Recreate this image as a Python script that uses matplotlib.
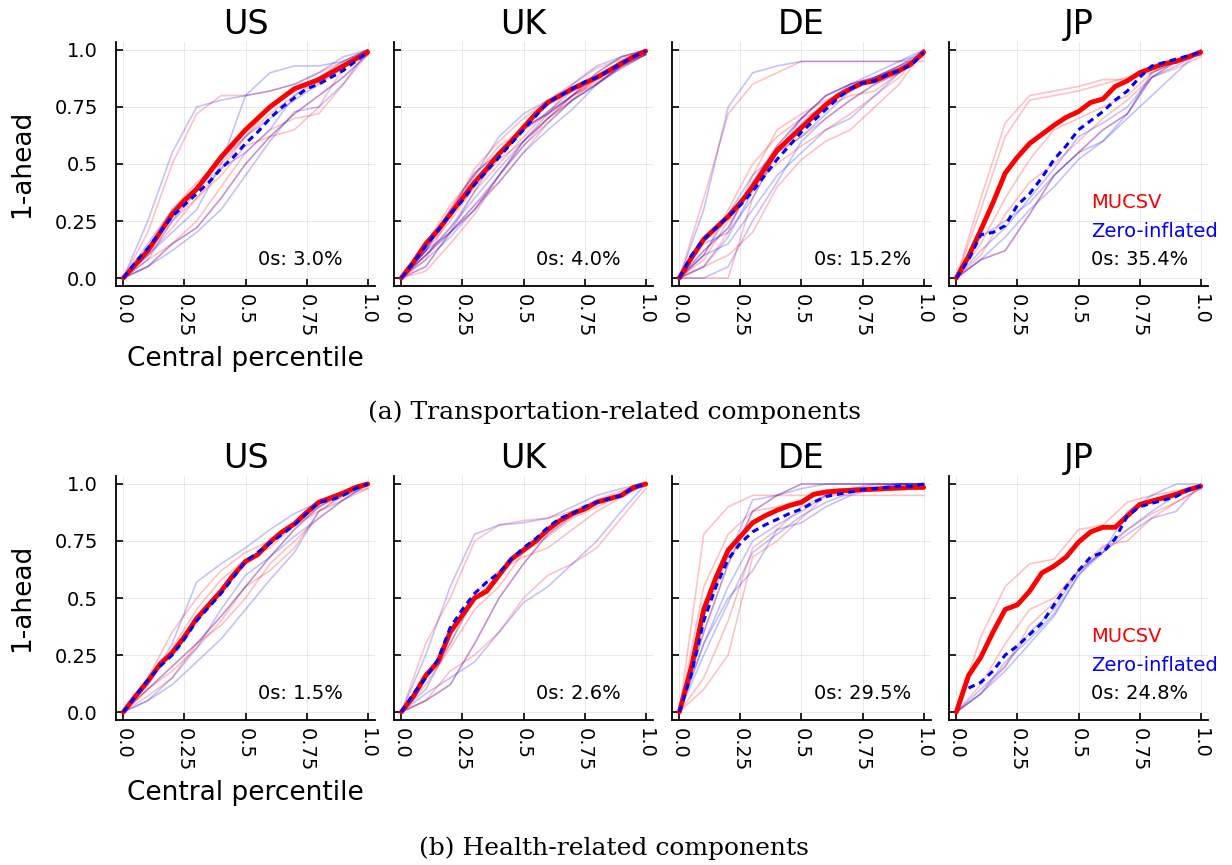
import matplotlib
matplotlib.use("Agg")
import matplotlib.pyplot as plt
import numpy as np

# percentile grids
pct = [0.0, 0.05, 0.1, 0.15, 0.2, 0.25, 0.3, 0.35, 0.4, 0.45, 0.5,
       0.55, 0.6, 0.65, 0.7, 0.75, 0.8, 0.85, 0.9, 0.95, 1.0]
pct_thin = [0.0, 0.1, 0.2, 0.3, 0.4, 0.5, 0.6, 0.7, 0.8, 0.9, 1.0]

countries = ["US", "UK", "DE", "JP"]
zeros_tr = ["3.0%", "4.0%", "15.2%", "35.4%"]
zeros_he = ["1.5%", "2.6%", "29.5%", "24.8%"]

# ---- (a) transportation ----
us_tr_mucsv = [0, .06, .12, .20, .28, .34, .39, .46, .53, .59, .65, .70, .75, .79, .83, .85, .87, .90, .93, .96, .99]
us_tr_zi = [0, .07, .13, .20, .27, .32, .37, .42, .48, .53, .59, .64, .70, .75, .79, .83, .85, .88, .91, .95, .99]
us_tr_red = [[0, .20, .50, .72, .80, .80, .82, .85, .90, .95, 1],
             [0, .08, .15, .25, .40, .55, .65, .70, .72, .85, .98],
             [0, .10, .25, .35, .45, .58, .62, .65, .75, .92, 1],
             [0, .12, .30, .42, .50, .62, .75, .82, .88, .94, .99],
             [0, .10, .22, .35, .48, .62, .72, .80, .86, .93, .99]]
us_tr_blue = [[0, .25, .55, .75, .78, .80, .82, .85, .90, .97, 1],
              [0, .10, .20, .30, .50, .80, .90, .93, .93, .95, 1],
              [0, .05, .12, .20, .30, .45, .60, .73, .75, .85, 1],
              [0, .15, .30, .40, .48, .55, .65, .80, .88, .95, 1],
              [0, .08, .25, .38, .52, .62, .70, .78, .85, .92, 1]]
us_tr_mix = [[0, .05, .15, .22, .35, .50, .62, .72, .80, .88, .98]]

uk_tr_mucsv = [0, .07, .15, .21, .28, .35, .42, .48, .545, .60, .66, .72, .77, .80, .83, .855, .88, .91, .94, .97, .995]
uk_tr_zi = [0, .07, .14, .21, .28, .34, .41, .47, .53, .59, .65, .71, .77, .80, .83, .86, .88, .91, .94, .97, .995]
uk_tr_red = [[0, .15, .32, .45, .58, .65, .72, .85, .92, .96, 1],
             [0, .10, .22, .38, .50, .62, .73, .80, .86, .92, .98],
             [0, .05, .20, .32, .42, .55, .68, .78, .88, .94, .98],
             [0, .12, .25, .40, .52, .60, .70, .80, .85, .93, 1],
             [0, .08, .28, .48, .60, .70, .78, .82, .88, .95, 1],
             [0, .03, .15, .28, .45, .58, .70, .80, .87, .93, .98]]
uk_tr_blue = [[0, .12, .28, .45, .62, .72, .78, .85, .93, .97, 1],
              [0, .08, .18, .30, .42, .55, .65, .74, .85, .93, 1],
              [0, .10, .22, .35, .48, .60, .72, .80, .88, .95, 1],
              [0, .05, .20, .38, .55, .65, .73, .82, .88, .95, 1],
              [0, .12, .20, .32, .45, .58, .68, .78, .85, .92, .98]]
uk_tr_mix = [[0, .12, .30, .46, .55, .66, .72, .80, .90, .97, 1],
             [0, .10, .20, .30, .45, .60, .70, .78, .85, .93, .98]]

de_tr_mucsv = [0, .09, .17, .22, .27, .33, .40, .48, .56, .61, .66, .71, .76, .80, .83, .855, .865, .89, .91, .94, .99]
de_tr_zi = [0, .10, .17, .22, .27, .32, .38, .45, .52, .58, .64, .69, .74, .79, .83, .855, .865, .89, .91, .935, .99]
de_tr_red = [[0, 0, 0, .35, .55, .62, .70, .78, .85, .90, .98],
             [0, .35, .72, .85, .90, .95, .95, .95, .95, .95, .95],
             [0, .05, .10, .20, .40, .52, .60, .65, .75, .85, 1],
             [0, .10, .30, .50, .62, .70, .75, .80, .82, .90, .98],
             [0, .05, .20, .45, .65, .72, .78, .82, .88, .92, .97],
             [0, .08, .25, .40, .50, .58, .65, .72, .80, .88, 1]]
de_tr_blue = [[0, .30, .75, .90, .93, .95, .95, .95, .95, .95, 1],
              [0, .10, .15, .30, .45, .55, .65, .70, .80, .90, 1],
              [0, 0, .05, .25, .42, .60, .70, .78, .85, .90, 1],
              [0, .15, .20, .35, .55, .68, .77, .85, .88, .92, .98],
              [0, .10, .28, .45, .55, .62, .72, .82, .88, .93, 1],
              [0, .05, .18, .38, .55, .70, .80, .85, .90, .95, .98]]
de_tr_mix = [[0, .12, .22, .42, .58, .70, .80, .85, .88, .93, .98]]

jp_tr_mucsv = [0, .095, .21, .33, .46, .53, .59, .63, .67, .705, .73, .77, .785, .84, .865, .90, .92, .94, .95, .97, .99]
jp_tr_zi = [0, .08, .19, .20, .23, .32, .37, .44, .52, .58, .65, .69, .73, .78, .82, .88, .93, .945, .96, .975, .99]
jp_tr_red = [[0, .35, .68, .80, .82, .84, .87, .87, .90, .95, 1],
             [0, .30, .62, .78, .80, .82, .85, .88, .92, .96, .98],
             [0, .15, .35, .52, .65, .70, .75, .80, .90, .95, .98],
             [0, .10, .28, .42, .50, .60, .70, .78, .88, .92, .97]]
jp_tr_blue = [[0, .12, .22, .35, .48, .62, .68, .75, .88, .93, .99],
              [0, .18, .25, .33, .45, .55, .60, .72, .90, .95, 1],
              [0, .08, .18, .30, .40, .52, .60, .70, .80, .90, 1]]
jp_tr_mix = [[0, .08, .12, .28, .45, .55, .65, .72, .88, .95, .98]]

# ---- (b) health ----
us_he_mucsv = [0, .07, .135, .21, .26, .33, .41, .47, .53, .60, .66, .69, .745, .79, .825, .875, .92, .94, .96, .985, 1.0]
us_he_zi = [0, .07, .14, .20, .25, .32, .40, .46, .52, .59, .66, .70, .74, .78, .82, .87, .92, .93, .95, .98, 1.0]
us_he_red = [[0, .15, .35, .50, .62, .70, .75, .82, .88, .95, .99],
             [0, .12, .28, .45, .58, .67, .72, .82, .90, .95, .98],
             [0, .07, .15, .30, .38, .50, .65, .75, .85, .93, .98],
             [0, .10, .18, .28, .40, .55, .62, .72, .88, .95, 1]]
us_he_blue = [[0, .12, .30, .57, .65, .72, .80, .87, .92, .97, 1],
              [0, .05, .12, .22, .32, .45, .58, .70, .88, .93, 1],
              [0, .05, .15, .28, .45, .60, .68, .77, .85, .93, 1]]
us_he_mix = [[0, .10, .20, .30, .42, .55, .68, .80, .90, .96, 1]]

uk_he_mucsv = [0, .07, .16, .22, .35, .425, .50, .53, .60, .67, .71, .75, .80, .84, .87, .89, .92, .935, .95, .985, 1.0]
uk_he_zi = [0, .08, .15, .23, .37, .45, .52, .57, .61, .67, .72, .76, .81, .85, .87, .90, .92, .935, .95, .985, 1.0]
uk_he_red = [[0, .30, .50, .75, .82, .84, .85, .88, .93, .97, 1],
             [0, .15, .30, .52, .62, .68, .72, .80, .88, .94, 1],
             [0, .05, .18, .25, .35, .50, .60, .65, .72, .85, .98],
             [0, .12, .28, .45, .55, .70, .77, .85, .90, .95, 1]]
uk_he_blue = [[0, .25, .55, .78, .82, .83, .85, .90, .95, .98, 1],
              [0, .08, .15, .22, .35, .48, .55, .65, .75, .88, 1],
              [0, .10, .30, .50, .60, .72, .80, .88, .92, .95, 1]]
uk_he_mix = [[0, .05, .12, .30, .50, .65, .78, .86, .92, .95, 1]]

de_he_mucsv = [0, .20, .45, .59, .71, .77, .83, .86, .885, .905, .92, .955, .965, .97, .972, .975, .977, .98, .982, .985, .985]
de_he_zi = [0, .17, .40, .55, .67, .74, .79, .82, .845, .87, .89, .92, .945, .955, .965, .975, .98, .985, .99, .99, 1.0]
de_he_red = [[0, .78, .90, .95, .95, .95, .95, .95, .95, .95, .95],
             [0, .55, .78, .88, .90, .93, .96, .97, .98, .98, .98],
             [0, .15, .40, .72, .80, .90, .95, .97, .98, .98, .98],
             [0, .10, .25, .68, .75, .85, .95, .98, .99, 1, 1]]
de_he_blue = [[0, .42, .68, .93, .95, .98, 1, 1, 1, 1, 1],
              [0, .30, .55, .75, .82, .88, .95, .98, 1, 1, 1],
              [0, .30, .50, .62, .80, .83, .90, .95, .98, 1, 1],
              [0, .25, .48, .70, .78, .86, .92, .96, .98, 1, 1]]
de_he_mix = [[0, .35, .65, .88, .95, 1, 1, 1, 1, 1, 1]]

jp_he_mucsv = [0, .16, .24, .35, .45, .47, .53, .61, .64, .68, .745, .79, .81, .81, .86, .91, .925, .94, .955, .975, .99]
jp_he_zi = [np.nan, .105, .13, .18, .25, .29, .34, .39, .47, .55, .62, .68, .70, .76, .86, .90, .915, .93, .945, .975, .99]
jp_he_red = [[0, .33, .55, .65, .67, .80, .82, .92, .95, .97, .99],
             [0, .12, .30, .45, .50, .62, .73, .75, .85, .92, .98],
             [0, .08, .20, .38, .48, .62, .70, .80, .87, .92, .98]]
jp_he_blue = [[0, .10, .20, .35, .45, .62, .70, .88, .95, 1, 1],
              [0, .08, .18, .30, .42, .60, .72, .80, .88, .95, .99],
              [0, .08, .22, .32, .43, .60, .70, .78, .85, .88, 1]]
jp_he_mix = []

rows = [
    [(us_tr_mucsv, us_tr_zi, us_tr_red, us_tr_blue, us_tr_mix),
     (uk_tr_mucsv, uk_tr_zi, uk_tr_red, uk_tr_blue, uk_tr_mix),
     (de_tr_mucsv, de_tr_zi, de_tr_red, de_tr_blue, de_tr_mix),
     (jp_tr_mucsv, jp_tr_zi, jp_tr_red, jp_tr_blue, jp_tr_mix)],
    [(us_he_mucsv, us_he_zi, us_he_red, us_he_blue, us_he_mix),
     (uk_he_mucsv, uk_he_zi, uk_he_red, uk_he_blue, uk_he_mix),
     (de_he_mucsv, de_he_zi, de_he_red, de_he_blue, de_he_mix),
     (jp_he_mucsv, jp_he_zi, jp_he_red, jp_he_blue, jp_he_mix)],
]
zeros = [zeros_tr, zeros_he]
captions = ["(a) Transportation-related components", "(b) Health-related components"]

ticks = [0.0, 0.25, 0.5, 0.75, 1.0]
tick_labels = ["0.0", "0.25", "0.5", "0.75", "1.0"]

W, H = 1232, 865
fig = plt.figure(figsize=(W / 100, H / 100), dpi=100)

col_left = [116, 394, 672, 949]
row_top = [42, 476]
ax_w, ax_h = 259, 244
caption_y = [412, 848]

for r in range(2):
    for c in range(4):
        ax = fig.add_axes([col_left[c] / W, (H - row_top[r] - ax_h) / H, ax_w / W, ax_h / H])
        mucsv, zi, reds, blues, mixes = rows[r][c]
        for s in reds + mixes:
            ax.plot(pct_thin, s, color="#ff0000", alpha=0.24, lw=1.2)
        for s in blues + mixes:
            ax.plot(pct_thin, s, color="#0000ff", alpha=0.24, lw=1.2)
        ax.plot(pct, mucsv, color="#ff0000", lw=3.5, solid_capstyle="round")
        ax.plot(pct, zi, color="#0000ff", lw=2.2, dashes=(2.2, 1.6))

        ax.set_xlim(-0.03, 1.03)
        ax.set_ylim(-0.035, 1.035)
        ax.set_xticks(ticks)
        ax.set_xticklabels(tick_labels, rotation=-90, fontsize=14)
        ax.set_yticks(ticks)
        if c == 0:
            ax.set_yticklabels(tick_labels, fontsize=14)
            ax.set_ylabel("1-ahead", fontsize=19, labelpad=14)
            ax.set_xlabel("Central percentile", fontsize=19, labelpad=6)
        else:
            ax.set_yticklabels([])
        ax.tick_params(direction="in", length=5, width=1.2)
        ax.tick_params(axis="x", pad=6)
        ax.tick_params(axis="y", pad=13)
        ax.grid(True, color="black", alpha=0.1, lw=0.6)
        ax.set_axisbelow(True)
        for sp in ["top", "right"]:
            ax.spines[sp].set_visible(False)
        for sp in ["left", "bottom"]:
            ax.spines[sp].set_linewidth(1.3)
        ax.set_title(countries[c], fontsize=24, pad=6)

        ax.text(0.55, 0.08, "0s: " + zeros[r][c], fontsize=14, ha="left", va="center")
        if c == 3:
            ax.text(0.55, 0.33, "MUCSV", fontsize=14, color="#ff0000", ha="left", va="center")
            ax.text(0.55, 0.205, "Zero-inflated", fontsize=14, color="#0000ff", ha="left", va="center")

    fig.text(614 / W, 1 - caption_y[r] / H, captions[r], fontsize=18, family="DejaVu Serif",
             ha="center", va="center")

fig.savefig("out.png", dpi=100)
